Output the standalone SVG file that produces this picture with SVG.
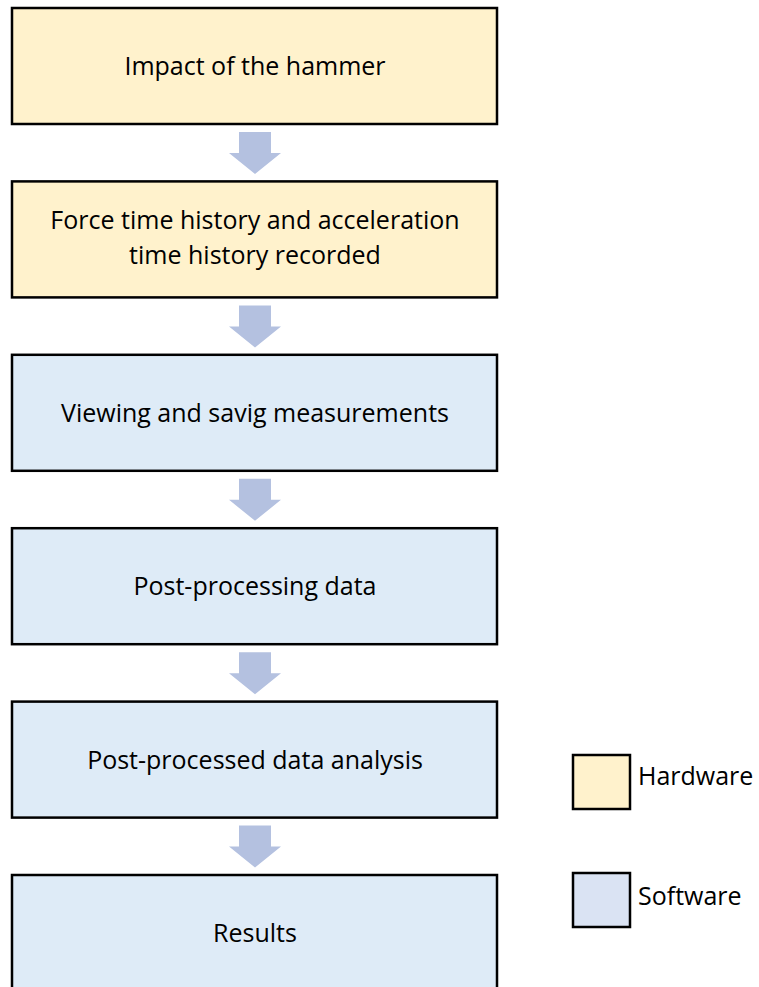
<svg xmlns="http://www.w3.org/2000/svg" width="759" height="987" viewBox="0 0 759 987">
<style>
.hw{fill:#FFF2CC;stroke:#000;stroke-width:2.5}
.sw{fill:#DEEBF7;stroke:#000;stroke-width:2.5}
.lsw{fill:#DAE3F3;stroke:#000;stroke-width:2.5}
.arr{fill:#B4C1E0}
text{font-family:"Open Sans","Liberation Sans",sans-serif;font-size:25px;fill:#000;text-anchor:middle}
.leg{text-anchor:start}
</style>
<rect width="759" height="987" fill="#fff"/>
<g id="connectors">
<path class="arr" d="M239,132H271V153H281L255,174L229,153H239Z"/>
<path class="arr" d="M239,305.4H271V326.4H281L255,347.4L229,326.4H239Z"/>
<path class="arr" d="M239,478.8H271V499.8H281L255,520.8L229,499.8H239Z"/>
<path class="arr" d="M239,652.2H271V673.2H281L255,694.2L229,673.2H239Z"/>
<path class="arr" d="M239,825.6H271V846.6H281L255,867.6L229,846.6H239Z"/>
</g>
<g id="n1"><rect class="hw" x="12" y="8" width="485" height="116"/><text x="255" y="75">Impact of the hammer</text></g>
<g id="n2"><rect class="hw" x="12" y="181.4" width="485" height="116"/><text x="255" y="229">Force time history and acceleration</text><text x="255" y="264">time history recorded</text></g>
<g id="n3"><rect class="sw" x="12" y="354.8" width="485" height="116"/><text x="255" y="422">Viewing and savig measurements</text></g>
<g id="n4"><rect class="sw" x="12" y="528.2" width="485" height="116"/><text x="255" y="595">Post-processing data</text></g>
<g id="n5"><rect class="sw" x="12" y="701.6" width="485" height="116"/><text x="255" y="769">Post-processed data analysis</text></g>
<g id="n6"><rect class="sw" x="12" y="875" width="485" height="116"/><text x="255" y="942">Results</text></g>
<g id="legend-hw"><rect class="hw" x="573" y="755" width="57" height="54"/><text class="leg" x="638" y="785">Hardware</text></g>
<g id="legend-sw"><rect class="lsw" x="573" y="873" width="57" height="54"/><text class="leg" x="638" y="905">Software</text></g>
</svg>
